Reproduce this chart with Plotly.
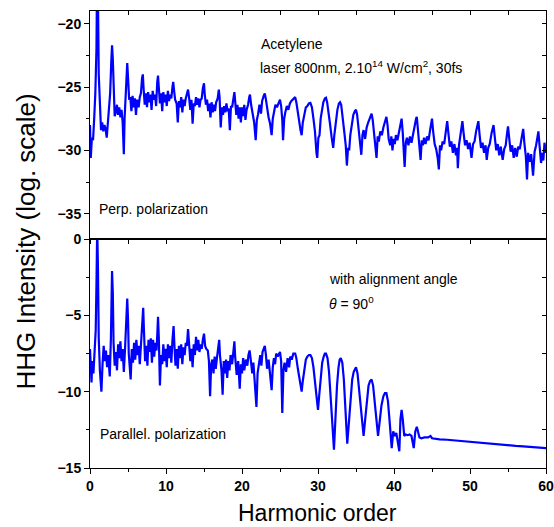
import plotly.graph_objects as go

# harmonic order / log intensity
perp_x = [0, 0.1, 0.25, 0.4, 0.55, 0.7, 0.85, 0.95, 1.05, 1.15, 1.3, 1.45, 1.6, 1.75, 1.9, 2.05, 2.2, 2.35, 2.5, 2.65,
          2.8, 2.9, 3.0, 3.1, 3.25, 3.4, 3.55, 3.7, 3.85, 4.0, 4.15, 4.3, 4.45, 4.55, 4.7, 4.8, 4.9, 5.0, 5.15, 5.3,
          5.45, 5.6, 5.75, 5.9, 6.05, 6.2, 6.4, 6.55, 6.7, 6.85, 6.95, 7.05, 7.2, 7.35, 7.5, 7.65, 7.8, 7.95, 8.1, 8.25,
          8.4, 8.55, 8.7, 8.85, 8.95, 9.05, 9.2, 9.35, 9.5, 9.65, 9.8, 9.95, 10.1, 10.25, 10.4, 10.55, 10.7, 10.85, 10.95, 11.05,
          11.2, 11.4, 11.55, 11.7, 11.85, 12.0, 12.15, 12.3, 12.45, 12.6, 12.75, 12.9, 13.05, 13.2, 13.35, 13.5, 13.65, 13.8, 13.95, 14.1,
          14.25, 14.4, 14.55, 14.7, 14.85, 15.0, 15.1, 15.25, 15.4, 15.55, 15.7, 15.85, 16.0, 16.15, 16.3, 16.45, 16.6, 16.8, 16.95, 17.05,
          17.2, 17.35, 17.5, 17.65, 17.8, 17.95, 18.1, 18.25, 18.4, 18.55, 18.7, 18.85, 19.0, 19.1, 19.25, 19.4, 19.55, 19.7, 19.85, 20.0,
          20.15, 20.3, 20.45, 20.6, 20.8, 20.95, 21.05, 21.2, 21.4, 21.6, 21.8, 21.95, 22.1, 22.3, 22.5, 22.65, 22.85, 23.0, 23.15, 23.3,
          23.5, 23.7, 23.9, 24.05, 24.2, 24.4, 24.6, 24.8, 25.0, 25.15, 25.3, 25.4, 25.55, 25.7, 25.9, 26.1, 26.3, 26.5, 26.7, 26.85,
          27.0, 27.15, 27.35, 27.55, 27.7, 27.85, 28.0, 28.2, 28.4, 28.6, 28.8, 29.0, 29.2, 29.4, 29.6, 29.8, 29.9, 30.05, 30.2, 30.35,
          30.5, 30.7, 30.9, 31.05, 31.2, 31.4, 31.6, 31.8, 32.0, 32.15, 32.35, 32.55, 32.75, 32.9, 33.05, 33.25, 33.45, 33.65, 33.8, 33.95,
          34.1, 34.25, 34.45, 34.65, 34.85, 35.0, 35.15, 35.35, 35.55, 35.7, 35.85, 36.0, 36.2, 36.4, 36.6, 36.85, 37.05, 37.2, 37.35, 37.5,
          37.7, 37.85, 38.0, 38.2, 38.4, 38.6, 38.8, 39.0, 39.15, 39.3, 39.5, 39.65, 39.8, 39.95, 40.1, 40.25, 40.45, 40.65, 40.85, 41.0,
          41.15, 41.3, 41.4, 41.55, 41.7, 41.9, 42.1, 42.3, 42.5, 42.7, 42.9, 43.0, 43.15, 43.35, 43.5, 43.65, 43.8, 43.95, 44.15, 44.35,
          44.55, 44.75, 44.9, 45.0, 45.15, 45.35, 45.55, 45.75, 45.9, 46.05, 46.2, 46.4, 46.6, 46.8, 47.0, 47.15, 47.35, 47.55, 47.75, 47.95,
          48.15, 48.3, 48.4, 48.55, 48.75, 49.0, 49.15, 49.35, 49.55, 49.75, 49.95, 50.2, 50.4, 50.6, 50.8, 51.1, 51.25, 51.45, 51.65, 51.85,
          52.05, 52.2, 52.4, 52.6, 52.85, 53.1, 53.25, 53.45, 53.65, 53.85, 54.05, 54.3, 54.5, 54.7, 54.85, 55.0, 55.15, 55.35, 55.55, 55.75,
          55.95, 56.15, 56.35, 56.55, 56.8, 57.0, 57.15, 57.35, 57.5, 57.65, 57.85, 58.05, 58.3, 58.5, 58.7, 58.85, 59.0, 59.15, 59.35, 59.5,
          59.65, 59.8, 60.0]
perp_y = [-28.0, -30.6, -29.0, -29.2, -27.5, -25.5, -22.0, -15.0, -18.0, -24.0, -26.5, -28.4, -27.8, -28.5, -28.0, -28.3, -29.0, -27.6, -26.8, -25.5,
          -23.0, -21.7, -22.8, -25.2, -27.3, -27.0, -26.4, -27.2, -26.6, -27.4, -26.8, -27.8, -30.3, -27.5, -25.8, -24.5, -23.1, -24.2, -26.0, -25.8,
          -26.9, -25.7, -26.6, -25.9, -27.2, -26.0, -26.6, -25.8, -25.5, -24.3, -24.0, -25.1, -26.4, -25.5, -26.6, -25.4, -26.2, -25.6, -26.8, -25.3,
          -26.0, -25.6, -26.5, -24.6, -24.1, -25.0, -26.3, -25.5, -26.9, -25.4, -26.2, -25.6, -26.5, -25.3, -26.1, -25.6, -25.9, -25.0, -24.6, -25.2,
          -26.0, -26.3, -27.8, -26.1, -26.6, -25.8, -27.0, -26.0, -26.5, -25.9, -25.6, -25.2, -25.9, -26.8, -26.0, -27.9, -26.3, -26.5, -25.8, -26.4,
          -25.9, -26.6, -26.0, -25.9, -25.1, -24.7, -25.6, -26.4, -26.0, -26.9, -26.3, -27.4, -26.2, -27.0, -26.4, -26.9, -26.2, -25.9, -25.2, -25.8,
          -28.2, -26.6, -27.2, -26.5, -27.0, -26.3, -26.9, -26.7, -28.4, -26.5, -26.6, -26.0, -25.4, -26.1, -27.2, -26.4, -27.5, -26.6, -27.8, -26.6,
          -27.3, -26.4, -27.6, -26.8, -26.4, -25.8, -25.6, -26.4, -27.0, -27.8, -29.2, -27.6, -27.2, -26.4, -27.1, -26.1, -25.7, -25.5, -26.0, -26.7,
          -27.4, -27.9, -28.8, -27.5, -27.0, -26.4, -26.6, -26.2, -26.0, -26.5, -27.6, -29.2, -27.5, -27.0, -26.5, -26.8, -26.3, -26.1, -26.0, -25.9,
          -25.8, -26.2, -27.1, -28.0, -28.4, -28.8, -27.8, -27.2, -26.6, -26.5, -26.3, -26.25, -26.6, -27.5, -28.5, -30.2, -30.6, -29.0, -28.8, -27.5,
          -26.9, -26.2, -25.9, -25.85, -26.2, -27.0, -28.0, -29.0, -29.8, -28.8, -27.6, -26.8, -26.3, -26.2, -26.4, -27.3, -28.5, -29.6, -31.2, -29.8,
          -30.0, -28.8, -27.8, -27.2, -26.9, -26.8, -27.2, -28.3, -29.4, -30.35, -28.8, -28.4, -29.1, -28.2, -27.8, -27.3, -27.1, -27.6, -28.7, -29.4,
          -30.6, -28.9, -29.3, -28.5, -28.8, -28.2, -27.7, -27.35, -28.0, -29.1, -29.6, -28.9, -30.0, -29.1, -29.5, -28.8, -29.2, -28.5, -27.8, -27.5,
          -28.6, -29.8, -31.3, -29.4, -29.0, -29.6, -28.9, -29.4, -28.7, -28.3, -27.5, -27.35, -28.3, -29.6, -30.75, -29.2, -29.6, -29.0, -29.5, -28.9,
          -29.2, -28.4, -27.7, -27.5, -28.5, -29.5, -29.9, -30.6, -31.5, -29.6, -30.0, -29.3, -29.5, -28.5, -27.7, -28.6, -29.7, -29.3, -30.2, -29.5,
          -30.4, -29.8, -31.4, -29.6, -28.6, -27.7, -28.6, -29.6, -29.2, -29.9, -29.4, -30.6, -29.5, -29.3, -28.5, -27.7, -28.7, -29.8, -29.4, -30.2,
          -29.6, -30.75, -29.8, -29.5, -28.6, -28.0, -28.9, -30.0, -29.5, -30.4, -29.7, -30.75, -29.9, -29.6, -28.8, -28.1, -29.0, -30.1, -29.6, -30.6,
          -29.8, -30.5, -29.7, -29.9, -29.0, -28.3, -29.4, -30.5, -32.3, -30.2, -30.9, -30.3, -32.0, -30.1, -29.6, -29.0, -28.5, -29.6, -31.0, -30.2,
          -30.8, -29.4, -30.2]

par_x = [0, 0.1, 0.2, 0.3, 0.45, 0.6, 0.75, 0.85, 0.95, 1.05, 1.15, 1.3, 1.5, 1.65, 1.8, 1.95, 2.1, 2.25, 2.4, 2.6,
         2.75, 2.9, 3.0, 3.1, 3.25, 3.4, 3.55, 3.7, 3.85, 4.0, 4.15, 4.3, 4.45, 4.6, 4.75, 4.9, 5.0, 5.1, 5.35, 5.5,
         5.65, 5.8, 5.95, 6.1, 6.25, 6.4, 6.55, 6.7, 6.85, 7.0, 7.1, 7.25, 7.4, 7.55, 7.7, 7.85, 8.0, 8.15, 8.3, 8.45,
         8.6, 8.75, 8.85, 8.95, 9.05, 9.2, 9.35, 9.5, 9.65, 9.8, 9.95, 10.1, 10.25, 10.4, 10.55, 10.7, 10.85, 11.0, 11.1, 11.25,
         11.4, 11.55, 11.7, 11.85, 12.0, 12.15, 12.3, 12.45, 12.6, 12.75, 12.9, 13.05, 13.2, 13.35, 13.5, 13.65, 13.8, 13.95, 14.1, 14.25,
         14.4, 14.55, 14.7, 14.85, 15.0, 15.15, 15.3, 15.5, 15.65, 15.8, 15.95, 16.1, 16.25, 16.4, 16.55, 16.7, 16.85, 17.0, 17.1, 17.3,
         17.45, 17.6, 17.75, 17.9, 18.05, 18.2, 18.35, 18.5, 18.7, 18.85, 19.0, 19.1, 19.3, 19.5, 19.7, 19.85, 20.0, 20.15, 20.3, 20.5,
         20.7, 20.85, 21.0, 21.15, 21.35, 21.5, 21.7, 21.9, 22.05, 22.2, 22.4, 22.55, 22.7, 22.85, 23.0, 23.15, 23.3, 23.5, 23.7, 23.9,
         24.05, 24.2, 24.35, 24.5, 24.7, 24.85, 25.0, 25.15, 25.3, 25.45, 25.6, 25.8, 26.0, 26.2, 26.35, 26.55, 26.75, 27.0, 27.15, 27.35,
         27.55, 27.7, 27.85, 28.0, 28.2, 28.4, 28.6, 28.8, 29.0, 29.2, 29.4, 29.6, 29.8, 30.0, 30.15, 30.35, 30.55, 30.75, 30.9, 31.05,
         31.25, 31.45, 31.65, 31.85, 32.1, 32.3, 32.5, 32.7, 32.85, 33.0, 33.2, 33.4, 33.6, 33.85, 34.1, 34.3, 34.5, 34.7, 34.85, 35.0,
         35.2, 35.45, 35.7, 36.0, 36.25, 36.45, 36.65, 36.85, 37.05, 37.25, 37.45, 37.65, 37.9, 38.15, 38.35, 38.6, 38.8, 39.0, 39.2, 39.4,
         39.7, 39.9, 40.1, 40.3, 40.5, 40.7, 40.85, 41.0, 41.15, 41.35, 41.55, 41.8, 42.05, 42.3, 42.6, 42.8, 43.0, 43.15, 43.35, 43.6,
         44.0, 44.5, 44.8, 45.0, 45.5, 46.0, 47.0, 48.0, 49.0, 50.0, 51.0, 52.0, 53.0, 54.0, 55.0, 56.0, 57.0, 58.0, 59.0, 60.0]
par_y = [-7.2, -8.6, -9.4, -8.0, -8.8, -7.4, -6.0, -3.0, 0.8, -2.0, -6.5, -8.6, -10.0, -8.2, -7.0, -8.0, -7.3, -8.4, -7.6, -9.0,
         -6.5, -2.1, -3.5, -6.8, -8.3, -7.4, -8.6, -6.9, -7.8, -6.7, -8.0, -7.2, -8.7, -7.3, -6.0, -3.9, -5.2, -7.5, -9.2, -7.2,
         -8.1, -6.8, -7.9, -6.6, -7.6, -7.0, -8.2, -7.1, -5.8, -4.5, -6.0, -8.0, -7.0, -8.3, -6.6, -7.4, -6.5, -8.1, -6.6, -7.7,
         -6.8, -7.3, -6.3, -5.1, -6.4, -9.6, -7.6, -8.2, -6.9, -8.0, -7.2, -8.4, -6.9, -7.8, -7.0, -8.1, -6.6, -5.7, -6.9, -8.3,
         -7.2, -8.5, -7.0, -7.8, -6.9, -8.2, -7.1, -7.6, -6.8, -7.0, -5.9, -6.9, -8.0, -7.2, -8.4, -6.9, -7.6, -6.4, -7.3, -6.6,
         -7.4, -6.9, -7.2, -6.6, -6.2, -7.0, -7.2, -7.3, -8.0, -10.3, -8.2, -7.9, -8.8, -7.7, -8.5, -7.8, -7.0, -6.6, -7.6, -8.6,
         -10.2, -8.0, -8.8, -7.9, -9.1, -8.0, -8.6, -7.6, -8.2, -7.4, -6.7, -7.7, -8.9, -8.0, -9.8, -8.2, -8.8, -7.8, -8.6, -7.9,
         -8.3, -7.6, -7.3, -7.9, -8.8, -8.1, -9.4, -11.0, -8.8, -8.2, -7.6, -8.3, -7.4, -7.2, -7.0, -7.6, -8.5, -7.9, -8.8, -9.9,
         -8.4, -7.8, -8.2, -7.5, -7.7, -7.5, -7.4, -8.0, -11.4, -8.6, -8.1, -8.7, -7.8, -8.4, -7.7, -7.9, -7.5, -7.5, -7.8, -8.5,
         -9.2, -9.6, -10.0, -9.3, -8.5, -7.9, -7.7, -7.6, -7.6, -7.8, -8.4, -9.3, -10.4, -11.2, -10.3, -9.0, -8.1, -7.7, -7.5, -7.5,
         -7.8, -8.7, -10.0, -11.8, -13.8, -11.5, -9.6, -8.4, -7.9, -7.8, -8.1, -9.2, -10.8, -13.4, -11.8, -10.2, -9.2, -8.7, -8.5, -8.4,
         -8.8, -10.0, -11.5, -12.9, -11.6, -10.4, -9.6, -9.3, -9.2, -9.6, -10.6, -11.8, -12.9, -11.8, -10.9, -10.3, -10.1, -10.1, -10.6, -11.8,
         -13.7, -12.6, -12.9, -12.7, -13.2, -13.9, -11.8, -11.2, -11.8, -12.9, -12.8, -12.85, -12.8, -12.9, -13.7, -12.6, -12.3, -12.6, -13.0, -13.05,
         -13.0, -13.0, -12.9, -13.05, -13.1, -13.12, -13.15, -13.2, -13.25, -13.3, -13.35, -13.4, -13.42, -13.46, -13.5, -13.55, -13.58, -13.62, -13.66, -13.7]

BLUE = '#0000ff'
FONT = 'Arial, Liberation Sans, sans-serif'
tick_font = dict(family=FONT, size=14, color='black')
txt_font = dict(family=FONT, size=14, color='black')

fig = go.Figure()
fig.add_trace(go.Scatter(x=par_x, y=par_y, mode='lines', line=dict(color=BLUE, width=2.2), xaxis='x', yaxis='y'))
fig.add_trace(go.Scatter(x=perp_x, y=perp_y, mode='lines', line=dict(color=BLUE, width=2.2), xaxis='x2', yaxis='y2'))
# empty traces so the overlay (inside tick) axes get drawn
fig.add_trace(go.Scatter(x=[], y=[], xaxis='x3', yaxis='y2'))
fig.add_trace(go.Scatter(x=[], y=[], xaxis='x', yaxis='y3'))
fig.add_trace(go.Scatter(x=[], y=[], xaxis='x2', yaxis='y4'))

axis_common = dict(showline=True, linecolor='black', linewidth=1, showgrid=False, zeroline=False, automargin=False,
                   ticks='outside', ticklen=5, tickcolor='black', tickfont=tick_font)
overlay_common = dict(ticks='inside', ticklen=4, tickcolor='black', showticklabels=False, automargin=False,
                      showgrid=False, zeroline=False, showline=False)
split = 0.501

fig.update_layout(
    width=554, height=527,
    margin=dict(l=90, r=8, t=11, b=59),
    paper_bgcolor='white', plot_bgcolor='white',
    showlegend=False,
    font=dict(family=FONT, color='black'),
    xaxis=dict(axis_common, anchor='y', domain=[0, 1], range=[0, 60], dtick=10, tick0=0, mirror=True,
               tickprefix='<b>', ticksuffix='</b>',
               minor=dict(ticks='outside', dtick=5, ticklen=3, tickcolor='black')),
    yaxis=dict(axis_common, anchor='x', domain=[0, split], range=[-15, 0], dtick=5, tick0=0, mirror=True,
               tickprefix='<b>', ticksuffix='</b>',
               minor=dict(ticks='outside', dtick=2.5, ticklen=3, tickcolor='black')),
    xaxis2=dict(axis_common, anchor='y2', domain=[0, 1], range=[0, 60], dtick=5, tick0=0, mirror=True,
                ticklen=4, showticklabels=False, matches='x'),
    yaxis2=dict(axis_common, anchor='x2', domain=[split, 1], range=[-37, -19], dtick=5, tick0=-20, mirror=True,
                tickprefix='<b>', ticksuffix='</b>',
                minor=dict(ticks='outside', dtick=2.5, ticklen=3, tickcolor='black')),
    xaxis3=dict(overlay_common, overlaying='x2', anchor='y2', side='top', range=[0, 60], dtick=5, tick0=0),
    yaxis3=dict(overlay_common, overlaying='y', anchor='x', side='right', range=[-15, 0], dtick=2.5, tick0=0),
    yaxis4=dict(overlay_common, overlaying='y2', anchor='x2', side='right', range=[-37, -19], dtick=2.5, tick0=-20),
)

notes = [
    ('Acetylene', 0.371, 0.928),
    ('laser 800nm, 2.10<sup>14</sup> W/cm<sup>2</sup>, 30fs', 0.369, 0.878),
    ('Perp. polarization', 0.015, 0.567),
    ('with alignment angle', 0.52, 0.414),
    ('<i>θ</i> = 90<sup>0</sup>', 0.52, 0.362),
    ('Parallel. polarization', 0.0175, 0.074),
]
for text, px, py in notes:
    fig.add_annotation(text=text, xref='paper', yref='paper', x=px, y=py, xanchor='left', yanchor='middle',
                       showarrow=False, font=txt_font)

fig.add_annotation(text='HHG Intensity (log. scale)', xref='paper', yref='paper', x=-0.14, y=0.496,
                   xanchor='center', yanchor='middle', textangle=-90, showarrow=False,
                   font=dict(family=FONT, size=26, color='black'))
fig.add_annotation(text='Harmonic order', xref='paper', yref='paper', x=0.499, y=-0.098,
                   xanchor='center', yanchor='middle', showarrow=False,
                   font=dict(family=FONT, size=23, color='black'))

# keep the page exactly the figure size (no body margin, no scroll overflow)
page_fix = ("document.documentElement.style.margin='0';document.documentElement.style.overflow='hidden';"
            "document.body.style.margin='0';document.body.style.padding='0';document.body.style.overflow='hidden';")
fig.write_html("out.html", config={'displayModeBar': False}, post_script=page_fix)
